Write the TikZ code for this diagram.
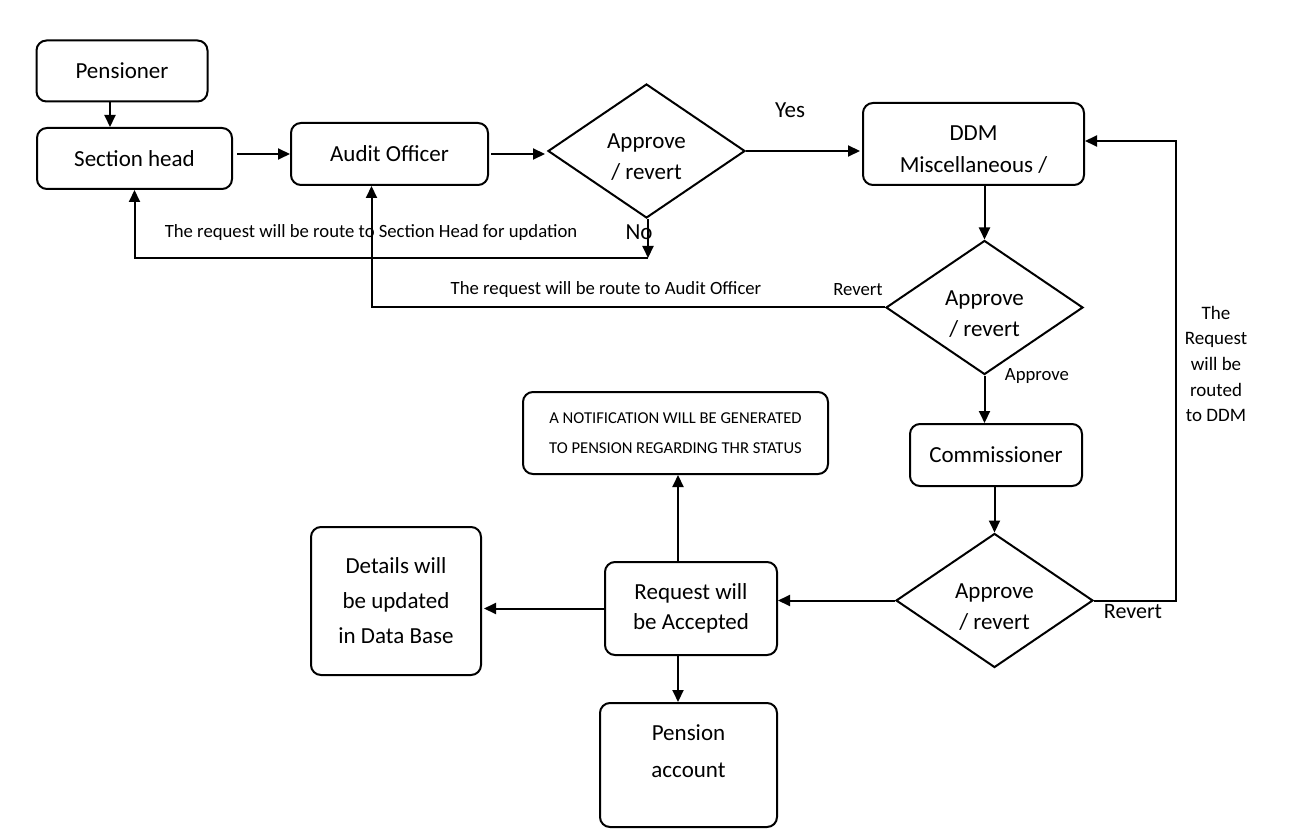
\documentclass[tikz,border=0pt]{standalone}
\usepackage{fontspec}
\setmainfont{Carlito}
\usetikzlibrary{shapes.geometric, arrows.meta, positioning}

\begin{document}
\begin{tikzpicture}[x=0.5pt, y=-0.5pt,
		box/.style = {draw, line width=1pt, rounded corners=5pt, align=center,
			inner sep=2pt, font=\fontsize{11.5}{16}\selectfont},
		decision/.style = {diamond, draw, line width=1pt, align=center, inner sep=0pt,
			aspect=1.47, minimum width=98.5pt, minimum height=67pt, text height=29pt,
			font=\fontsize{11.5}{15.5}\selectfont},
		note/.style = {inner sep=1pt, font=\fontsize{9.35}{12}\selectfont},
		flow/.style = {line width=1pt, -{Triangle[length=6pt, width=5.5pt]}}
		]
		\useasboundingbox (0,0) rectangle (1310,839);
		% top row
		\node (pensioner) [box, minimum width=85.5pt, minimum height=30.5pt] at (122,71) {Pensioner};
		\node (sechead) [box, minimum width=97.5pt, minimum height=30.5pt] at (134.5,158.5) {Section head};
		\node (audit) [box, minimum width=98.5pt, minimum height=31pt] at (389.5,154) {Audit Officer};
		\node (dec1) [decision] at (646.5,151) {Approve\\/ revert};
		\node (ddm) [box, minimum width=110.5pt, minimum height=41pt, text height=29pt] at (973.5,144) {DDM\\Miscellaneous /};
		% right column
		\node (dec2) [decision] at (984.5,307.5) {Approve\\/ revert};
		\node (comm) [box, minimum width=86pt, minimum height=31pt] at (996,455) {Commissioner};
		\node (dec3) [decision] at (994.5,600.5) {Approve\\/ revert};
		% bottom part
		\node (req) [box, minimum width=86pt, minimum height=46.5pt, font=\fontsize{11.5}{15}\selectfont] at (691,608.5) {Request will\\be Accepted};
		\node (details) [box, minimum width=85pt, minimum height=74pt, font=\fontsize{11.5}{17.5}\selectfont] at (396,601) {Details will\\be updated\\in Data Base};
		\node (notif) [box, minimum width=152.5pt, minimum height=41pt, font=\fontsize{8.3}{15}\selectfont] at (675.5,433) {A NOTIFICATION WILL BE GENERATED\\TO PENSION REGARDING THR STATUS};
		\node (pension) [box, minimum width=88.5pt, minimum height=62pt, text depth=14pt, font=\fontsize{11.5}{18.5}\selectfont] at (688.5,765) {Pension\\account};

		% labels
		\node (yes) [note, font=\fontsize{11.5}{14}\selectfont] at (790,110) {Yes};
		\node (no) [note, font=\fontsize{11.5}{14}\selectfont] at (639,232) {No};
		\node (toSH) [note] at (371,233) {The request will be route to Section Head for updation};
		\node (toAO) [note] at (606,290) {The request will be route to Audit Officer};
		\node (rev2) [note] at (858,290) {Revert};
		\node (appr2) [note] at (1037,376) {Approve};
		\node (rev3) [note, font=\fontsize{11}{14}\selectfont] at (1133,612) {Revert};
		\node (toDDM) [note, align=center, font=\fontsize{9.5}{12.8}\selectfont] at (1216,364) {The\\Request\\will be\\routed\\to DDM};

		\coordinate (nojoin) at (648,258);
		\coordinate (back) at (1176,600.5);

		\draw [flow] ([xshift=-6pt]pensioner.south) -- ([xshift=-6pt]pensioner.south |- sechead.north);
		\draw [flow] ([xshift=2pt]sechead.east |- audit.west) -- (audit.west);
		\draw [flow] ([xshift=1pt]audit.east) -- ([xshift=-1pt]dec1.west |- audit.east);
		\draw [flow] (dec1.east) -- ([xshift=-1pt]dec1.east -| ddm.west);
		\draw [flow] (dec1.south -| nojoin) -- (nojoin);
		\draw [flow] (nojoin) -| (sechead.south);
		\draw [flow] (dec2.west) -| ([xshift=-9pt]audit.south);
		\draw [flow] (ddm.south -| dec2.north) -- (dec2.north);
		\draw [flow] (dec2.south) -- (dec2.south |- comm.north);
		\draw [flow] (comm.south -| dec3.north) -- (dec3.north);
		\draw [flow] (dec3.west) -- (dec3.west -| req.east);
		\draw [flow] (dec3.east) -- (back) |- ([yshift=1.5pt]ddm.east);
		\draw [flow] (req.west) -- ([xshift=1pt]req.west -| details.east);
		\draw [flow] ([xshift=-6.5pt]req.north) -- ([xshift=-6.5pt]req.north |- notif.south);
		\draw [flow] ([xshift=-6.5pt]req.south) -- ([xshift=-6.5pt]req.south |- pension.north);
	\end{tikzpicture}
\end{document}
